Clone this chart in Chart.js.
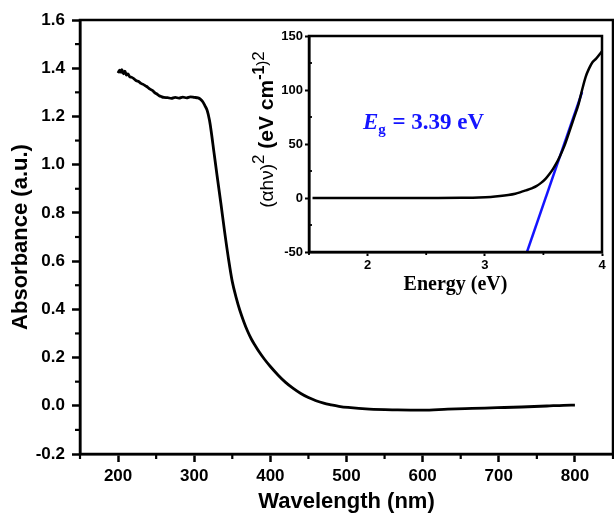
<!DOCTYPE html>
<html><head><meta charset="utf-8">
<script src="https://cdn.jsdelivr.net/npm/chart.js@4.4.0/dist/chart.umd.min.js"></script>
<style>
html,body{margin:0;padding:0;background:#fff;}
#wrap{position:relative;width:614px;height:515px;overflow:hidden;}
#main{position:absolute;left:0;top:0;}
#inset{position:absolute;left:240px;top:24px;}
</style></head><body>
<div id="wrap">
<canvas id="main" width="614" height="515"></canvas>
<canvas id="inset" width="370" height="276"></canvas>
</div>
<script>
// ---- main chart data ----
const wavelength = [200,202,204,205,207,209,211,213,215,218,221,224,227,230,233,236,239,242,245,248,251,254,257,260,265,270,275,280,285,290,295,300,305,308,311,314,317,320,322,326,330,335,340,345,350,355,360,365,370,375,380,385,392,400,410,420,430,440,450,460,470,480,490,502,530,567,600,633,665,698,730,763,785,800];
const absorbance = [1.380,1.392,1.383,1.394,1.377,1.388,1.371,1.376,1.366,1.362,1.356,1.348,1.345,1.337,1.333,1.327,1.321,1.313,1.308,1.299,1.293,1.286,1.282,1.279,1.278,1.275,1.279,1.276,1.280,1.277,1.281,1.279,1.277,1.272,1.262,1.245,1.225,1.185,1.145,1.050,0.955,0.840,0.720,0.610,0.515,0.450,0.395,0.350,0.310,0.277,0.250,0.225,0.194,0.163,0.128,0.097,0.072,0.051,0.034,0.021,0.011,0.004,-0.002,-0.007,-0.014,-0.017,-0.018,-0.014,-0.011,-0.008,-0.005,-0.001,0.002,0.003];
const xTicksMain = [200,300,400,500,600,700,800];
const xMinorMain = [150,250,350,450,550,650,750,850];
const yTicksMain = [-0.2,0,0.2,0.4,0.6,0.8,1.0,1.2,1.4,1.6];
const yMinorMain = [-0.1,0.1,0.3,0.5,0.7,0.9,1.1,1.3,1.5];

// ---- inset data ----
const energy = [1.53,1.8,2.0,2.2,2.4,2.6,2.8,2.95,3.05,3.13,3.2,3.26,3.3,3.35,3.4,3.44,3.48,3.52,3.55,3.58,3.61,3.64,3.68,3.72,3.76,3.8,3.83,3.86,3.89,3.92,3.95,3.98,4.0];
const ahv2 = [0,0,0,0,0,0,0.2,0.5,1,1.8,2.8,4,5.2,7,9,11,14,18,22,26.5,32,38.5,48.5,61,74,87,100,112,120,126,129,133,136];
const fitEnergy = [3.36,3.83];
const fitValue = [-50,98];
const xTicksInset = [2,3,4];
const xMinorInset = [1.5,2.5,3.5];
const yTicksInset = [-50,0,50,100,150];
const yMinorInset = [-25,25,75,125];

const SANS = '"Liberation Sans", Arial, sans-serif';
const SERIF = '"Liberation Serif", "Times New Roman", serif';

const framePlugin = {
  id: 'frameMinor',
  afterDraw(chart, args, o) {
    const ctx = chart.ctx, xs = chart.scales.x, ys = chart.scales.y, a = chart.chartArea;
    ctx.save();
    ctx.strokeStyle = '#000';
    ctx.lineWidth = o.tickWidth;
    (o.xMinor || []).forEach(v => {
      const px = xs.getPixelForValue(v);
      ctx.beginPath(); ctx.moveTo(px, a.bottom); ctx.lineTo(px, a.bottom + o.xLen); ctx.stroke();
    });
    (o.yMinor || []).forEach(v => {
      const py = ys.getPixelForValue(v);
      ctx.beginPath(); ctx.moveTo(a.left, py); ctx.lineTo(a.left + o.yLen, py); ctx.stroke();
    });
    ctx.lineWidth = o.frame;
    ctx.strokeRect(a.left, a.top, a.right - a.left, a.bottom - a.top);
    ctx.restore();
  }
};

new Chart(document.getElementById('main'), {
  type: 'line',
  data: {
    datasets: [{
      data: wavelength.map((x, i) => ({x: x, y: absorbance[i]})),
      borderColor: '#000', borderWidth: 2.8, pointRadius: 0, cubicInterpolationMode: 'monotone', fill: false
    }]
  },
  options: {
    responsive: false, animation: false,
    layout: {padding: {left: 0, top: 20, right: 1, bottom: 0}},
    plugins: {
      legend: {display: false}, tooltip: {enabled: false},
      frameMinor: {xMinor: xMinorMain, yMinor: yMinorMain, xLen: 5, yLen: -5, tickWidth: 2.2, frame: 2.5}
    },
    scales: {
      x: {
        type: 'linear', min: 150, max: 850,
        afterBuildTicks: s => { s.ticks = xTicksMain.map(v => ({value: v})); },
        afterFit: s => { s.height = 61; },
        border: {display: true, color: '#000', width: 2.5},
        grid: {drawOnChartArea: false, drawTicks: true, tickLength: 8, tickWidth: 2.5, tickColor: '#000'},
        ticks: {color: '#000', font: {family: SANS, size: 17, weight: 'bold'}, padding: 4, maxRotation: 0},
        title: {display: true, text: 'Wavelength (nm)', color: '#000', font: {family: SANS, size: 22, weight: 'bold', lineHeight: 1}, padding: {top: 0, bottom: 2}}
      },
      y: {
        type: 'linear', min: -0.2, max: 1.6,
        afterBuildTicks: s => { s.ticks = yTicksMain.map(v => ({value: v})); },
        afterFit: s => { s.width = 80; },
        border: {display: true, color: '#000', width: 2.5},
        grid: {drawOnChartArea: false, drawTicks: true, tickLength: 8, tickWidth: 2.5, tickColor: '#000'},
        ticks: {color: '#000', font: {family: SANS, size: 17, weight: 'bold'}, padding: 7, callback: v => Number(v).toFixed(1)},
        title: {display: true, text: 'Absorbance (a.u.)', color: '#000', font: {family: SANS, size: 22, weight: 'bold', lineHeight: 1}, padding: {top: 10, bottom: 0}}
      }
    }
  },
  plugins: [framePlugin]
});

const insetText = {
  id: 'insetText',
  afterDraw(chart) {
    const ctx = chart.ctx, xs = chart.scales.x, ys = chart.scales.y;
    ctx.save();
    // Eg annotation
    let x = xs.getPixelForValue(1.96), y = ys.getPixelForValue(64);
    ctx.fillStyle = '#1414ff';
    ctx.textBaseline = 'alphabetic';
    ctx.font = 'italic bold 23px ' + SERIF; ctx.fillText('E', x, y); x += ctx.measureText('E').width;
    ctx.font = 'bold 15px ' + SERIF; ctx.fillText('g', x, y + 5); x += ctx.measureText('g').width + 1;
    ctx.font = 'bold 23px ' + SERIF; ctx.fillText(' = 3.39 eV', x, y);
    // y title (rotated)
    ctx.fillStyle = '#000';
    ctx.translate(chart.chartArea.left - 43, ys.getPixelForValue(-9));
    ctx.rotate(-Math.PI / 2);
    const segs = [
      ['(\u03b1h\u03bd)', '19px ' + SANS, 0],
      ['2', '17px ' + SANS, -9],
      [' (eV cm', 'bold 21px ' + SANS, 0],
      ['-1', 'bold 16px ' + SANS, -9],
      [')', '15px ' + SANS, -6],
      ['2', '17px ' + SANS, -9]
    ];
    let cx = 0;
    segs.forEach(s => { ctx.font = s[1]; ctx.fillText(s[0], cx, s[2] + 7); cx += ctx.measureText(s[0]).width; });
    ctx.restore();
  }
};

new Chart(document.getElementById('inset'), {
  type: 'line',
  data: {
    datasets: [
      {data: energy.map((x, i) => ({x: x, y: ahv2[i]})), borderColor: '#000', borderWidth: 2.5, pointRadius: 0, cubicInterpolationMode: 'monotone', fill: false},
      {data: fitEnergy.map((x, i) => ({x: x, y: fitValue[i]})), borderColor: '#1414ff', borderWidth: 2.5, pointRadius: 0, fill: false}
    ]
  },
  options: {
    responsive: false, animation: false,
    layout: {padding: {left: 0, top: 12, right: 8, bottom: 0}},
    plugins: {
      legend: {display: false}, tooltip: {enabled: false},
      frameMinor: {xMinor: xMinorInset, yMinor: yMinorInset, xLen: 3, yLen: 3, tickWidth: 1.8, frame: 2.5}
    },
    scales: {
      x: {
        type: 'linear', min: 1.5, max: 4,
        afterBuildTicks: s => { s.ticks = xTicksInset.map(v => ({value: v})); },
        afterFit: s => { s.height = 48; },
        border: {display: true, color: '#000', width: 2.5},
        grid: {drawOnChartArea: false, drawTicks: true, tickLength: 4, tickWidth: 2, tickColor: '#000'},
        ticks: {color: '#000', font: {family: SANS, size: 13, weight: 'bold'}, padding: 2, maxRotation: 0},
        title: {display: true, text: 'Energy (eV)', color: '#000', font: {family: SERIF, size: 20, weight: 'bold', lineHeight: 1}, padding: {top: 0, bottom: 5}}
      },
      y: {
        type: 'linear', min: -50, max: 150,
        afterBuildTicks: s => { s.ticks = yTicksInset.map(v => ({value: v})); },
        afterFit: s => { s.width = 69; },
        border: {display: true, color: '#000', width: 2.5},
        grid: {drawOnChartArea: false, drawTicks: true, tickLength: 4, tickWidth: 2, tickColor: '#000'},
        ticks: {color: '#000', font: {family: SANS, size: 13, weight: 'bold'}, padding: 2}
      }
    }
  },
  plugins: [framePlugin, insetText]
});
</script>
</body></html>
